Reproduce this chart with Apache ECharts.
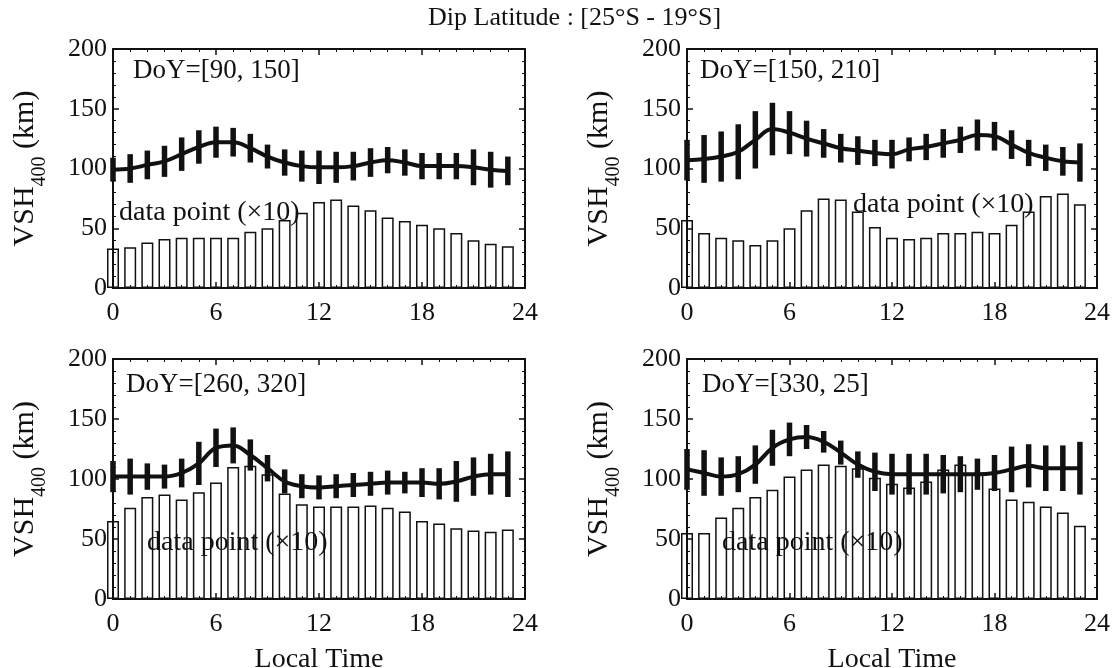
<!DOCTYPE html>
<html>
<head>
<meta charset="utf-8">
<script src="https://cdn.jsdelivr.net/npm/echarts@6/dist/echarts.min.js"></script>
<style>
html, body { margin: 0; padding: 0; background: #fff; }
#main { width: 1114px; height: 668px; }
</style>
</head>
<body>
<div id="main"></div>
<script>
// local time hours
var hours = [0, 1, 2, 3, 4, 5, 6, 7, 8, 9, 10, 11, 12, 13, 14, 15, 16, 17, 18, 19, 20, 21, 22, 23];
var xTicks = [0, 6, 12, 18, 24];
var yTicks = [0, 50, 100, 150, 200];

var titleText = 'Dip Latitude : [25°S - 19°S]';
var doyLabels = ['DoY=[90, 150]', 'DoY=[150, 210]', 'DoY=[260, 320]', 'DoY=[330, 25]'];
var countLabel = 'data point (×10)';

// DoY [90,150]
var count1 = [33, 34, 38, 41, 42, 42, 42, 42, 47, 50, 57, 63, 72, 74, 69, 65, 59, 56, 53, 50, 46, 40, 37, 35];
var vsh1 = [99, 100, 103, 106, 112, 118, 122, 122, 117, 110, 105, 102, 101, 101, 102, 105, 107, 105, 102, 102, 102, 101, 99, 98];
var err1 = [10, 12, 12, 13, 14, 14, 13, 12, 12, 10, 11, 13, 14, 13, 12, 12, 11, 11, 11, 11, 11, 15, 15, 12];

// DoY [150,210]
var count2 = [57, 46, 42, 40, 36, 40, 50, 65, 75, 74, 64, 51, 42, 41, 42, 46, 46, 47, 46, 53, 64, 77, 79, 70];
var vsh2 = [107, 108, 110, 114, 124, 133, 130, 125, 121, 117, 115, 113, 112, 116, 118, 121, 124, 128, 127, 120, 113, 109, 106, 105];
var err2 = [17, 20, 21, 23, 24, 22, 18, 15, 12, 12, 12, 11, 12, 10, 11, 12, 11, 13, 12, 12, 11, 11, 12, 16];

// DoY [260,320]
var count3 = [65, 76, 85, 87, 83, 89, 97, 110, 111, 104, 88, 79, 77, 77, 77, 78, 76, 73, 65, 63, 59, 57, 56, 58];
var vsh3 = [102, 102, 102, 102, 105, 113, 126, 128, 120, 109, 98, 94, 93, 94, 95, 96, 97, 97, 97, 96, 98, 102, 104, 104];
var err3 = [13, 15, 11, 10, 12, 18, 16, 15, 13, 11, 10, 10, 10, 10, 10, 10, 10, 9, 12, 13, 17, 16, 17, 19];

// DoY [330,25]
var count4 = [55, 55, 68, 76, 85, 91, 102, 108, 112, 111, 109, 101, 96, 93, 98, 108, 112, 104, 92, 83, 81, 77, 72, 61];
var vsh4 = [108, 105, 102, 104, 112, 126, 133, 135, 131, 122, 112, 106, 104, 104, 104, 104, 104, 104, 105, 108, 111, 109, 109, 109];
var err4 = [17, 19, 16, 15, 16, 15, 14, 10, 9, 10, 11, 16, 17, 17, 17, 16, 15, 13, 15, 19, 18, 19, 19, 22];

var panels = [
    { counts: count1, vsh: vsh1, err: err1 },
    { counts: count2, vsh: vsh2, err: err2 },
    { counts: count3, vsh: vsh3, err: err3 },
    { counts: count4, vsh: vsh4, err: err4 }
];

var FONT = '"Liberation Serif", "DejaVu Serif", serif';
var INK = '#111';

var myChart = echarts.init(document.getElementById('main'));

// panel boxes in pixels
var boxes = [
    { left: 113, top: 49, width: 412, height: 239 },
    { left: 687, top: 49, width: 410, height: 239 },
    { left: 113, top: 359, width: 412, height: 240 },
    { left: 687, top: 359, width: 410, height: 240 }
];
var textPos = [
    { doy: [133, 71], dp: [119, 213] },
    { doy: [700, 71], dp: [853, 205] },
    { doy: [126, 385], dp: [147, 543] },
    { doy: [702, 385], dp: [722, 543] }
];

var grids = [], xAxes = [], yAxes = [], series = [], graphics = [];

function baseAxisLine() {
    return { show: true, onZero: false, lineStyle: { color: INK, width: 2 } };
}

boxes.forEach(function (b, i) {
    grids.push({
        left: b.left, top: b.top, width: b.width, height: b.height,
        containLabel: false, outerBoundsMode: 'none', show: false
    });
    [0, 1].forEach(function (k) {
        xAxes.push({
            gridIndex: i,
            type: 'value',
            position: k === 0 ? 'bottom' : 'top',
            min: xTicks[0], max: xTicks[xTicks.length - 1], interval: 6,
            axisLine: baseAxisLine(),
            axisTick: { show: true, inside: true, length: 6, lineStyle: { color: INK, width: 1.5 } },
            minorTick: { show: true, splitNumber: 6, length: 3, lineStyle: { color: INK, width: 1 } },
            splitLine: { show: false },
            axisLabel: {
                show: k === 0, fontSize: 26, fontFamily: FONT, color: INK, margin: 12,
                showMinLabel: true, showMaxLabel: true
            },
            name: (k === 0 && i >= 2) ? 'Local Time' : '',
            nameLocation: 'middle',
            nameGap: 47,
            nameTextStyle: { fontSize: 28, fontFamily: FONT, color: INK }
        });
        yAxes.push({
            gridIndex: i,
            type: 'value',
            position: k === 0 ? 'left' : 'right',
            min: yTicks[0], max: yTicks[yTicks.length - 1], interval: 50,
            axisLine: baseAxisLine(),
            axisTick: { show: true, inside: true, length: 6, lineStyle: { color: INK, width: 1.5 } },
            minorTick: { show: true, splitNumber: 5, length: 3, lineStyle: { color: INK, width: 1 } },
            splitLine: { show: false },
            axisLabel: {
                show: k === 0, fontSize: 26, fontFamily: FONT, color: INK, margin: 6,
                showMinLabel: true, showMaxLabel: true
            },
            name: k === 0 ? '{a|VSH}{b|400}{a| (km)}' : '',
            nameLocation: 'middle',
            nameRotate: 90,
            nameGap: 63,
            nameTextStyle: {
                color: INK,
                rich: {
                    a: { fontSize: 30, fontFamily: FONT, color: INK },
                    b: { fontSize: 20, fontFamily: FONT, color: INK, padding: [30, 0, 0, 0] }
                }
            }
        });
    });

    var p = panels[i];
    series.push({
        type: 'bar',
        xAxisIndex: 2 * i, yAxisIndex: 2 * i,
        barWidth: 12,
        itemStyle: { color: 'rgba(0,0,0,0)', borderColor: INK, borderWidth: 1.5 },
        data: hours.map(function (h, k) { return [h, p.counts[k]]; }),
        z: 2
    });
    series.push({
        type: 'line',
        xAxisIndex: 2 * i, yAxisIndex: 2 * i,
        smooth: 0.4,
        symbol: 'none',
        lineStyle: { color: INK, width: 4 },
        data: hours.map(function (h, k) { return [h, p.vsh[k]]; }),
        z: 3
    });
    series.push({
        type: 'custom',
        xAxisIndex: 2 * i, yAxisIndex: 2 * i,
        encode: { x: 0, y: [1, 2] },
        data: hours.map(function (h, k) { return [h, p.vsh[k] - p.err[k], p.vsh[k] + p.err[k]]; }),
        renderItem: function (params, api) {
            var lo = api.coord([api.value(0), api.value(1)]);
            var hi = api.coord([api.value(0), api.value(2)]);
            return {
                type: 'line',
                shape: { x1: lo[0], y1: lo[1], x2: hi[0], y2: hi[1] },
                style: { stroke: INK, lineWidth: 5.5 }
            };
        },
        z: 4
    });

    graphics.push({
        type: 'text', left: textPos[i].doy[0], top: textPos[i].doy[1] - 14,
        style: { text: doyLabels[i], font: '27px ' + FONT, fill: INK }
    });
    graphics.push({
        type: 'text', left: textPos[i].dp[0], top: textPos[i].dp[1] - 14,
        style: { text: countLabel, font: '28px ' + FONT, fill: INK }
    });
});

graphics.push({
    type: 'text', left: 428, top: 5,
    style: { text: titleText, font: '26px ' + FONT, fill: INK }
});

var option = {
    backgroundColor: '#fff',
    animation: false,
    grid: grids,
    xAxis: xAxes,
    yAxis: yAxes,
    series: series,
    graphic: graphics
};

myChart.setOption(option);
</script>
</body>
</html>
